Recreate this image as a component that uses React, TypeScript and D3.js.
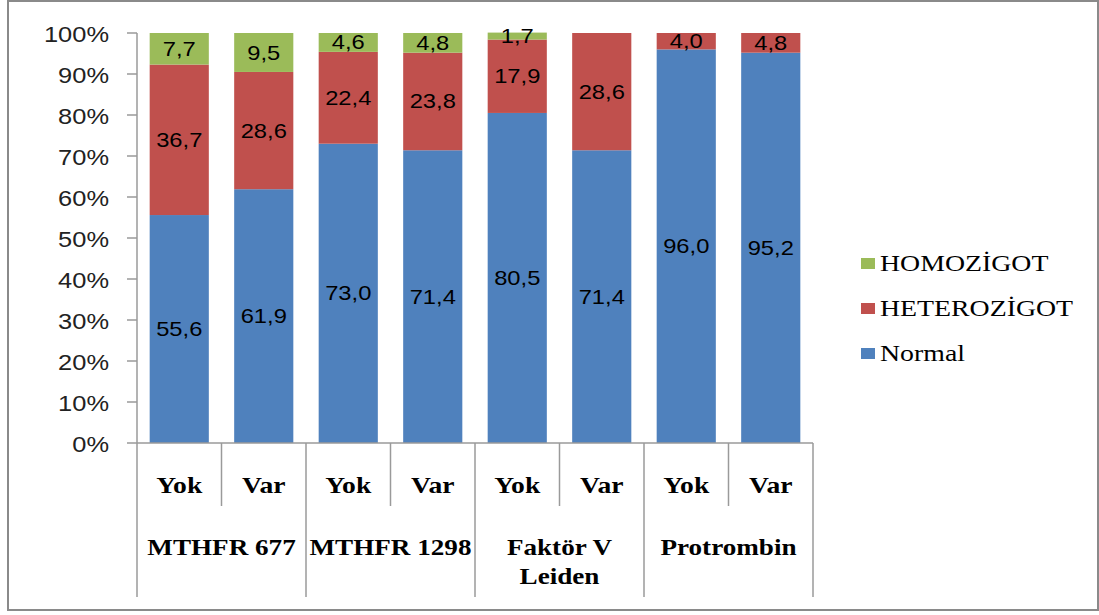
import React from "react";
import * as d3 from "d3";

// Gene groups and carrier status per bar
const groups = ["MTHFR 677", "MTHFR 1298", "Faktör V\nLeiden", "Protrombin"];
const statuses = ["Yok", "Var"];

// Percentages per bar (group-major order: Yok, Var for each gene)
const normal = [55.6, 61.9, 73.0, 71.4, 80.5, 71.4, 96.0, 95.2];
const heterozigot = [36.7, 28.6, 22.4, 23.8, 17.9, 28.6, 4.0, 4.8];
const homozigot = [7.7, 9.5, 4.6, 4.8, 1.7, 0, 0, 0];

const yTicks = [0, 10, 20, 30, 40, 50, 60, 70, 80, 90, 100];

const seriesNames = ["Normal", "HETEROZİGOT", "HOMOZİGOT"];
const seriesColors = ["#4F81BD", "#C0504D", "#9BBB59"];
const seriesValues = [normal, heterozigot, homozigot];

const W = 1099;
const H = 615;
const left = 137;
const right = 813;
const top = 33;
const bottom = 443;

const SANS = "'Liberation Sans', Arial, sans-serif";
const SERIF = "'Liberation Serif', 'Times New Roman', serif";
const AXIS = "#9a9a9a";

const fmt = (v: number) => v.toFixed(1).replace(".", ",");

export default function App() {
  const n = normal.length;
  const x = d3
    .scaleBand<number>()
    .domain(d3.range(n))
    .range([left, right])
    .paddingInner(0.3)
    .paddingOuter(0.15);
  const y = d3.scaleLinear().domain([0, 100]).range([bottom, top]);
  const step = x.step();

  const rows = d3.range(n).map((i) => ({
    i,
    vals: seriesValues.map((s) => s[i]),
  }));
  const stack = d3
    .stack<{ i: number; vals: number[] }, number>()
    .keys([0, 1, 2])
    .value((d, k) => d.vals[k]);
  const layers = stack(rows);

  const sx = (tx: number, ty: number, k = 1.13) =>
    `translate(${tx},${ty}) scale(${k},1)`;

  return (
    <svg
      width={W}
      height={H}
      style={{ position: "absolute", left: 0, top: 0, background: "#fff" }}
    >
      <rect x={8} y={1} width={1090} height={609} fill="#fff" stroke="#8a8a8a" strokeWidth={2} />

      {/* stacked bars */}
      {layers.map((layer, k) =>
        layer.map((d, i) => (
          <rect
            key={`b${k}-${i}`}
            x={x(i)}
            y={y(d[1])}
            width={x.bandwidth()}
            height={Math.max(0, y(d[0]) - y(d[1]))}
            fill={seriesColors[k]}
          />
        ))
      )}

      {/* value labels */}
      {layers.map((layer, k) =>
        layer.map((d, i) => {
          const v = seriesValues[k][i];
          if (!v) return null;
          return (
            <text
              key={`l${k}-${i}`}
              transform={sx(x(i)! + x.bandwidth() / 2, y((d[0] + d[1]) / 2))}
              textAnchor="middle"
              dominantBaseline="central"
              fontFamily={SANS}
              fontSize={21}
              fill="#000"
            >
              {fmt(v)}
            </text>
          );
        })
      )}

      {/* y axis */}
      <line x1={left} x2={left} y1={top} y2={bottom} stroke={AXIS} strokeWidth={1.5} />
      {yTicks.map((t) => (
        <g key={`t${t}`}>
          <line x1={left - 10} x2={left} y1={y(t)} y2={y(t)} stroke={AXIS} strokeWidth={1.5} />
          <text
            transform={sx(109, y(t) + 1)}
            textAnchor="end"
            dominantBaseline="central"
            fontFamily={SANS}
            fontSize={22.5}
            fill="#222"
          >
            {`${t}%`}
          </text>
        </g>
      ))}

      {/* category axis with two label levels */}
      <line x1={left} x2={right} y1={bottom} y2={bottom} stroke={AXIS} strokeWidth={1.5} />
      {d3.range(n + 1).map((i) => {
        const xx = left + i * step;
        const isGroupEdge = i % 2 === 0;
        return (
          <line
            key={`v${i}`}
            x1={xx}
            x2={xx}
            y1={bottom}
            y2={isGroupEdge ? 597 : 506}
            stroke={AXIS}
            strokeWidth={1.5}
          />
        );
      })}
      {d3.range(n).map((i) => (
        <text
          key={`s${i}`}
          transform={sx(x(i)! + x.bandwidth() / 2, 493, 1.2)}
          textAnchor="middle"
          fontFamily={SERIF}
          fontWeight="bold"
          fontSize={23}
          fill="#000"
        >
          {statuses[i % 2]}
        </text>
      ))}
      {groups.map((g, gi) => {
        const cx = left + (gi * 2 + 1) * step;
        return (
          <text
            key={`g${gi}`}
            transform={sx(cx, 555, 1.18)}
            textAnchor="middle"
            fontFamily={SERIF}
            fontWeight="bold"
            fontSize={23}
            fill="#000"
          >
            {g.split("\n").map((line, li) => (
              <tspan key={li} x={0} dy={li === 0 ? 0 : 29}>
                {line}
              </tspan>
            ))}
          </text>
        );
      })}

      {/* legend, top-down: HOMOZİGOT, HETEROZİGOT, Normal */}
      {[2, 1, 0].map((k, row) => {
        const by = 271 + row * 45;
        return (
          <g key={`lg${k}`}>
            <rect x={861} y={by - 13} width={14} height={11} fill={seriesColors[k]} />
            <text
              transform={sx(880, by, 1.21)}
              fontFamily={SERIF}
              fontSize={23}
              fill="#000"
            >
              {seriesNames[k]}
            </text>
          </g>
        );
      })}
    </svg>
  );
}
